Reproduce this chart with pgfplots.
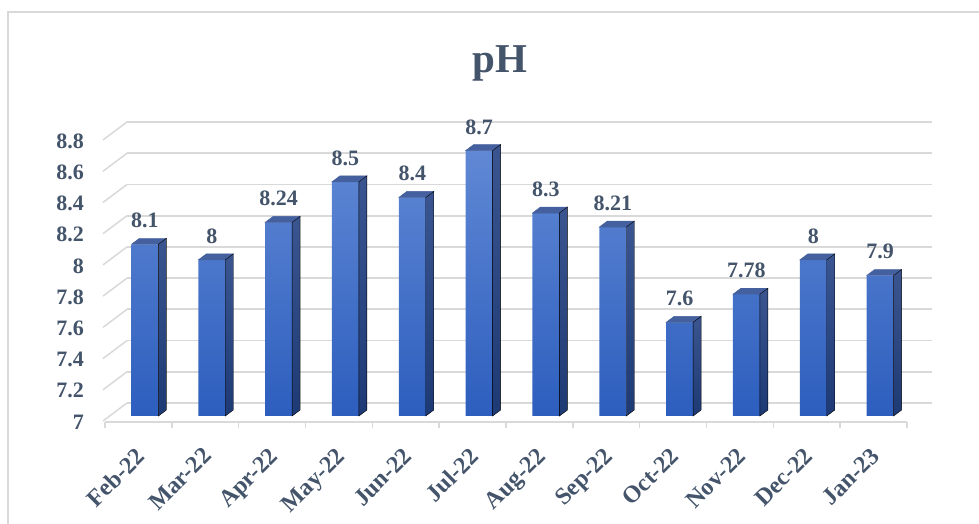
\documentclass[border=0pt]{standalone}
\usepackage{pgfplots}
\usepackage{pgfplotstable}
\pgfplotsset{compat=1.18}
\usepackage{fontspec}
\setmainfont{Liberation Serif}
\definecolor{txt}{HTML}{44546A}
\definecolor{gridc}{HTML}{D9D9D9}
\definecolor{ftop}{HTML}{6088D4}
\definecolor{fbot}{HTML}{2D5EBE}
\definecolor{stop}{HTML}{3A5590}
\definecolor{sbot}{HTML}{1E3A75}
\definecolor{tface}{HTML}{44609E}
\pgfdeclareplotmark{nothing}{}
\pgfplotsset{/pgf/number format/assume math mode=true}
\pgfplotstableread{
x v
0 8.1
1 8
2 8.24
3 8.5
4 8.4
5 8.7
6 8.3
7 8.21
8 7.6
9 7.78
10 8
11 7.9
}\phdata
\newcommand{\lblfont}{\fontsize{22}{26}\selectfont\bfseries}
\newcommand{\xlblfont}{\fontsize{24}{28}\selectfont\bfseries}
\begin{document}
\begin{tikzpicture}[x=1pt,y=1pt]
\useasboundingbox (0,0) rectangle (979,524);
\draw[gridc, line width=1.5pt] (8,0) -- (8,512) -- (979,512);
\node[font=\fontsize{41}{48}\selectfont\bfseries, text=txt, anchor=base, inner sep=0pt] at (500,451) {pH};

% back plane
\begin{axis}[at={(127pt,121pt)}, anchor=south west, scale only axis,
  width=805pt, height=281pt, xmin=-0.5, xmax=11.5, ymin=7, ymax=8.8,
  axis line style={draw=none}, xtick=\empty,
  ytick={7,7.2,7.4,7.6,7.8,8,8.2,8.4,8.6,8.8}, yticklabels={},
  major tick length=0pt, ymajorgrids,
  major grid style={draw=gridc, line width=1.8pt}, clip=false]
\pgfplotsinvokeforeach{7,7.2,7.4,7.6,7.8,8,8.2,8.4,8.6,8.8}{
  \draw[gridc, line width=1.5pt] (axis cs:-0.5,#1) -- ++(-24pt,-18pt);
}
\end{axis}

% front plane
\begin{axis}[at={(105pt,102pt)}, anchor=south west, scale only axis,
  width=802pt, height=281pt, xmin=-0.5, xmax=11.5, ymin=7, ymax=8.8,
  axis line style={draw=none}, clip=false,
  xtick pos=left, ytick pos=left,
  ytick={7,7.2,7.4,7.6,7.8,8,8.2,8.4,8.6,8.8},
  yticklabels={7,7.2,7.4,7.6,7.8,8,8.2,8.4,8.6,8.8},
  xtick={0,1,2,3,4,5,6,7,8,9,10,11},
  xticklabels={Feb-22,Mar-22,Apr-22,May-22,Jun-22,Jul-22,Aug-22,Sep-22,Oct-22,Nov-22,Dec-22,Jan-23},
  major tick length=0pt, tick style={draw=none},
  yticklabel style={font=\lblfont, text=txt, inner sep=0pt, anchor=east, xshift=-21pt},
  xticklabel style={font=\xlblfont, text=txt, inner sep=0pt, xshift=-4pt, yshift=-24pt, rotate=45, anchor=north east},
  extra x ticks={-0.5,0.5,1.5,2.5,3.5,4.5,5.5,6.5,7.5,8.5,9.5,10.5,11.5},
  extra x tick labels={},
  extra x tick style={major tick length=6pt, tick align=outside, tick style={draw=gridc, line width=1.5pt}}]
\draw[gridc, line width=2.5pt] (axis cs:-0.5,7) -- (axis cs:11.5,7);
\end{axis}

% bars
\begin{axis}[at={(111.5pt,108pt)}, anchor=south west, scale only axis,
  width=802pt, height=343.44pt, xmin=-0.5, xmax=11.5, ymin=0, ymax=2.2,
  hide axis, clip=false]
\addplot[ybar, bar width=27pt, bar shift=0pt, draw=none, top color=ftop, bottom color=fbot,
  point meta=\thisrow{v}, nodes near coords,
  every node near coord/.append style={font=\lblfont, text=txt, inner sep=0pt, anchor=south, yshift=16pt}]
  table[x=x, y expr=\thisrow{v}-7] {\phdata};
\addplot[scatter, only marks, mark=nothing,
  visualization depends on={\thisrow{v} \as \vv},
  scatter/@pre marker code/.code={%
    \pgfmathsetmacro\hh{(\vv-7)*156.111}%
    \pgfmathsetmacro\yb{6-\hh}%
    \pgfmathsetmacro\yc{-\hh}%
    \fill[tface] (-13.5pt,0pt) -- (13.5pt,0pt) -- (21.5pt,6pt) -- (-5.5pt,6pt) -- cycle;
    \path[top color=stop, bottom color=sbot] (13.5pt,0pt) -- (21.5pt,6pt) -- (21.5pt,\yb pt) -- (13.5pt,\yc pt) -- cycle;
  },
  scatter/@post marker code/.code={}]
  table[x=x, y expr=\thisrow{v}-7] {\phdata};
\end{axis}
\end{tikzpicture}
\end{document}
